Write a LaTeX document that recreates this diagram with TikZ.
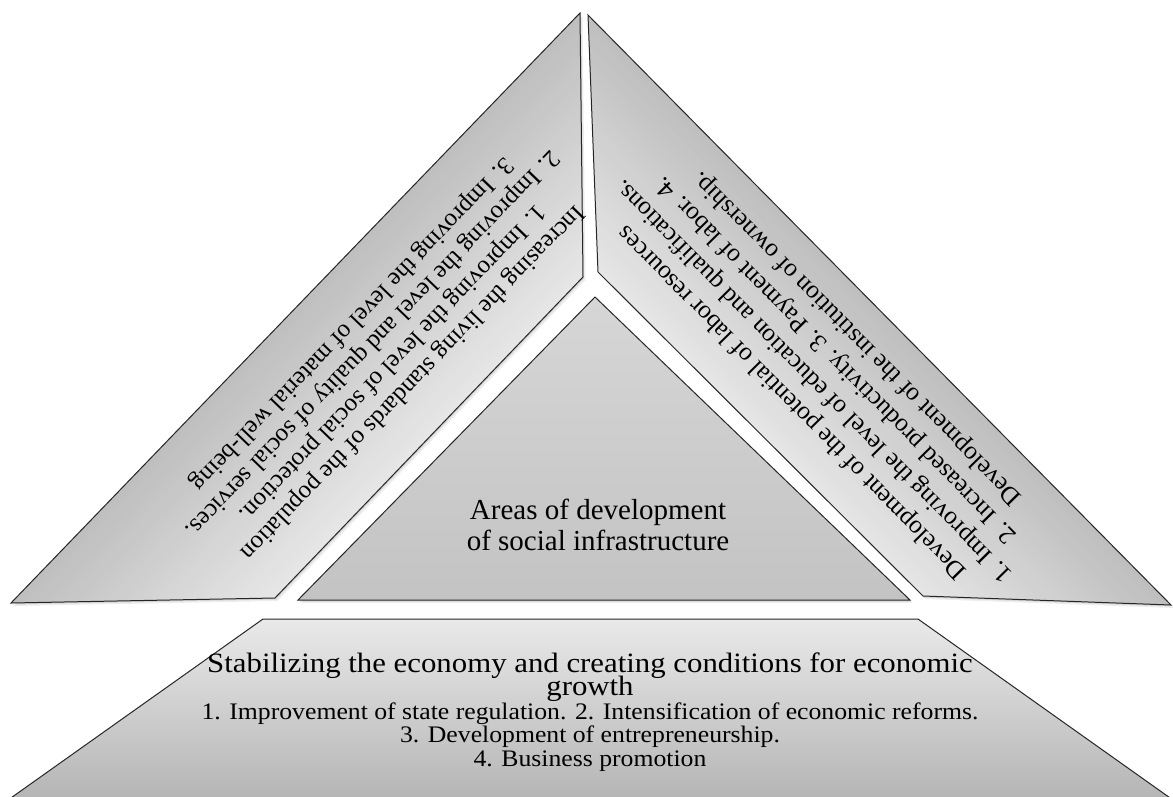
\documentclass[tikz,border=0pt]{standalone}
\usepackage{fontspec}
\usepackage{graphicx}
\setmainfont{Liberation Serif}
\usetikzlibrary{calc}
\definecolor{gdark}{HTML}{BEBEBE}
\definecolor{glight}{HTML}{E9E9E9}
\definecolor{ctop}{HTML}{D6D6D6}
\definecolor{cbot}{HTML}{C3C3C3}
\definecolor{edge}{HTML}{262626}
\tikzset{
  outline/.style={draw=edge, line width=1pt, line join=miter},
  shadowa/.style={fill=black, opacity=0.10, xshift=1pt, yshift=-1.5pt},
  shadowb/.style={fill=black, opacity=0.07, xshift=2.5pt, yshift=-3pt},
  sidetext/.style={align=center, inner sep=0pt, text=black},
}
\begin{document}
\setlength{\lineskiplimit}{-50pt}
\begin{tikzpicture}[x=1pt,y=-1pt]
\useasboundingbox (0,0) rectangle (1173,796);
\clip (0,0) rectangle (1173,796);
% ---- shadows
\foreach \s in {shadowa,shadowb}{
  \fill[\s] (580,13) -- (583,277) -- (275,598) -- (11,603) -- cycle;
  \fill[\s] (588,15) -- (598,272) -- (923,596) -- (1171,605) -- cycle;
  \fill[\s] (595,297) -- (910,600) -- (298,600) -- cycle;
  \fill[\s] (263,619) -- (918,619) -- (1173,800) -- (8,800) -- cycle;
}
% ---- left shape gradient (outer edge dark, inner edge light)
\begin{scope}
  \clip (580,13) -- (583,277) -- (275,598) -- (11,603) -- cycle;
  \foreach \i in {0,...,49}{
    \pgfmathsetmacro\ta{\i*4-3}
    \pgfmathsetmacro\tb{\i*4+1.6}
    \pgfmathtruncatemacro\p{100*\i/49}
    \fill[glight!\p!gdark]
      ({580+0.7199*\ta+60*0.6942},{13+0.6942*\ta-60*0.7199}) --
      ({580+0.7199*\ta-900*0.6942},{13+0.6942*\ta+900*0.7199}) --
      ({580+0.7199*\tb-900*0.6942},{13+0.6942*\tb+900*0.7199}) --
      ({580+0.7199*\tb+60*0.6942},{13+0.6942*\tb-60*0.7199}) -- cycle;
  }
\end{scope}
% ---- right shape gradient
\begin{scope}
  \clip (588,15) -- (598,272) -- (923,596) -- (1171,605) -- cycle;
  \foreach \i in {0,...,46}{
    \pgfmathsetmacro\ta{\i*4-3}
    \pgfmathsetmacro\tb{\i*4+1.6}
    \pgfmathtruncatemacro\p{100*\i/46}
    \fill[glight!\p!gdark]
      ({588-0.7119*\ta-60*0.7022},{15+0.7022*\ta-60*0.7119}) --
      ({588-0.7119*\ta+900*0.7022},{15+0.7022*\ta+900*0.7119}) --
      ({588-0.7119*\tb+900*0.7022},{15+0.7022*\tb+900*0.7119}) --
      ({588-0.7119*\tb-60*0.7022},{15+0.7022*\tb-60*0.7119}) -- cycle;
  }
\end{scope}
% ---- outlines of side shapes
\draw[outline] (580,13) -- (583,277) -- (275,598) -- (11,603) -- cycle;
\draw[outline] (588,15) -- (598,272) -- (923,596) -- (1171,605) -- cycle;
% ---- centre triangle
\shade[top color=ctop, bottom color=cbot] (595,297) -- (910,600) -- (298,600) -- cycle;
\draw[outline] (595,297) -- (910,600) -- (298,600) -- cycle;
% ---- bottom trapezoid
\shade[top color=glight, bottom color=gdark!95!black] (263,619) -- (918,619) -- (1173,800) -- (8,800) -- cycle;
\draw[outline] (8,800) -- (263,619) -- (918,619) -- (1173,800);
% ---- texts
\node[sidetext, rotate=226.04, font=\fontsize{25}{28}\selectfont] (lefttext) at (382,353)
  {Increasing the living standards of the population\\
   1. Improving the level of social protection.\\
   2. Improving the level and quality of social services.\\
   3. Improving the level of material well-being};
\node[sidetext, rotate=134.6, font=\fontsize{25.4}{30.5}\selectfont] (righttext) at (825,370)
  {Development of the potential of labor resources\\
   1. Improving the level of education and qualifications.\\
   2. Increased productivity. 3. Payment of labor. 4.\\
   Development of the institution of ownership.};
\node[sidetext, font=\fontsize{29}{31}\selectfont] (centretext) at (598,525)
  {Areas of development\\of social infrastructure};
\node[sidetext, font=\fontsize{23.7}{23.35}\selectfont] (bottomtext) at (590,712)
  {\scalebox{1.1}[1]{\fontsize{28}{28}\selectfont Stabilizing the economy and creating conditions for economic}\\
   \scalebox{1.1}[1]{\fontsize{28}{28}\selectfont growth}\\
   \scalebox{1.085}[1]{1. Improvement of state regulation. 2. Intensification of economic reforms.}\\
   \scalebox{1.085}[1]{3. Development of entrepreneurship.}\\
   \scalebox{1.085}[1]{4. Business promotion}};
\end{tikzpicture}
\end{document}
